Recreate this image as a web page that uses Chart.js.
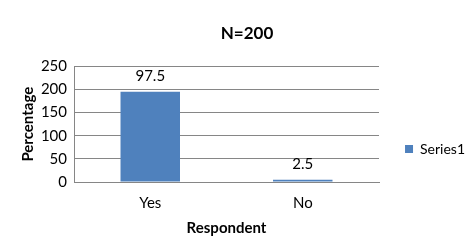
<!DOCTYPE html>
<html>
<head>
<meta charset="utf-8">
<script src="https://cdn.jsdelivr.net/npm/chart.js@4"></script>
<style>
body{margin:0;background:#fff;}
#wrap{width:470px;height:248px;}
</style>
</head>
<body>
<div id="wrap"><canvas id="myChart" width="470" height="248"></canvas></div>
<script>
var categorias = ['Yes', 'No'];
var valores = [195, 5];
var etiquetas = ['97.5', '2.5'];
var nombreSerie = 'Series1';
var ticksY = [0, 50, 100, 150, 200, 250];

// etiquetas encima de las barras
const etiquetasBarras = {
    id: 'etiquetasBarras',
    afterDatasetsDraw(chart){
        const ctx = chart.ctx;
        const meta = chart.getDatasetMeta(0);
        ctx.save();
        ctx.font = '15px Lato';
        ctx.fillStyle = '#000';
        ctx.textAlign = 'center';
        ctx.textBaseline = 'bottom';
        meta.data.forEach(function(bar, i){
            ctx.fillText(etiquetas[i], bar.x, bar.y - 8);
        });
        ctx.restore();
    }
};

function crearGrafica(){
    const ctx = document.getElementById('myChart').getContext('2d');
    const chart = new Chart(ctx, {
    type: 'bar',
    data: {
        labels: categorias,
        datasets: [{
        label: nombreSerie,
        data: valores,
        backgroundColor: 'rgb(79, 129, 189)',
        borderColor: 'rgb(79, 129, 189)',
        borderWidth: 0,
        categoryPercentage: 1,
        barPercentage: 0.39
        }],
    },
    options: {
        responsive: false,
        animation: false,
        layout: {padding: {left: 19, right: -5, top: 0, bottom: 11}},
        plugins: {
            title: {
                display: true,
                text: 'N=200',
                color: '#000',
                font: {family: 'Lato', size: 17, weight: 'bold'},
                padding: {top: 23, bottom: 23}
            },
            legend: {
                position: 'right',
                align: 'end',
                fullSize: false,
                labels: {
                    boxWidth: 8,
                    boxHeight: 8,
                    color: '#000',
                    padding: 26,
                    font: {family: 'Lato', size: 14}
                }
            },
            tooltip: {enabled: false}
        },
        scales: {
            x: {
                grid: {display: false, drawTicks: false},
                border: {color: '#868686'},
                ticks: {color: '#000', padding: 12, font: {family: 'Lato', size: 15}},
                title: {display: true, text: 'Respondent', color: '#000', padding: {top: 0, bottom: 0}, font: {family: 'Lato', size: 15, weight: 'bold'}},
                afterFit: function(axis){ axis.height = 55; }
            },
            y: {
                min: 0,
                max: 250,
                afterBuildTicks: function(axis){ axis.ticks = ticksY.map(function(v){ return {value: v}; }); },
                grid: {color: '#868686', drawTicks: false},
                border: {color: '#868686'},
                ticks: {color: '#000', padding: 7, font: {family: 'Lato', size: 15}},
                title: {display: true, text: 'Percentage', color: '#000', padding: {top: 0, bottom: 0}, font: {family: 'Lato', size: 15, weight: 'bold'}},
                afterFit: function(axis){ axis.width = 55; }
            }
        }
    },
    plugins: [etiquetasBarras]
    });
}

crearGrafica();
</script>
</body>
</html>
